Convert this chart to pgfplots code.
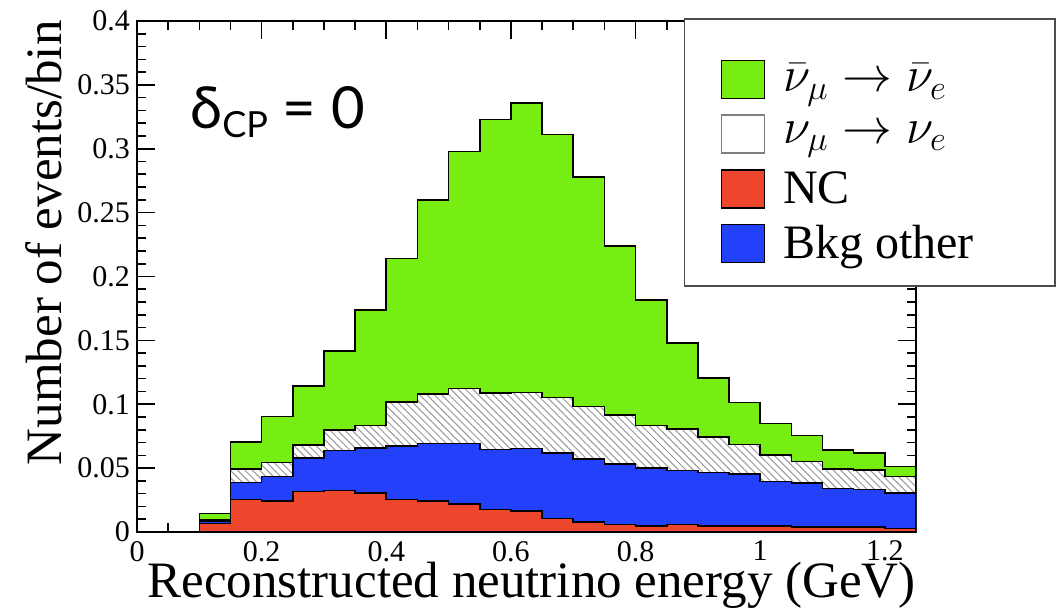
\documentclass[border=0pt]{standalone}
\usepackage{pgfplots}
\pgfplotsset{compat=1.18}
\usepackage{pgfplotstable}
\usetikzlibrary{patterns.meta}
\usepackage{fontspec}
\setmainfont{Liberation Serif}
\newfontfamily\labelsans{Lato}
\definecolor{cgreen}{RGB}{118,238,20}
\definecolor{cred}{RGB}{238,70,45}
\definecolor{cblue}{RGB}{35,65,250}

\pgfplotstableread{
x     red     blue    nue     total
0.00  0       0       0       0
0.05  0       0       0       0
0.10  0.0065  0.0085  0.0095  0.0145
0.15  0.0255  0.0387  0.0492  0.0703
0.20  0.0245  0.0434  0.0545  0.0903
0.25  0.0316  0.0579  0.0679  0.1145
0.30  0.0324  0.0639  0.0797  0.1416
0.35  0.0303  0.0658  0.0834  0.1737
0.40  0.0255  0.0671  0.1018  0.2140
0.45  0.0242  0.0692  0.1079  0.2600
0.50  0.0218  0.0692  0.1124  0.2980
0.55  0.0176  0.0645  0.1087  0.3230
0.60  0.0163  0.0653  0.1092  0.3360
0.65  0.0105  0.0618  0.1053  0.3110
0.70  0.0079  0.0571  0.0982  0.2780
0.75  0.0060  0.0534  0.0916  0.2240
0.80  0.0045  0.0500  0.0834  0.1816
0.85  0.0058  0.0482  0.0808  0.1480
0.90  0.0045  0.0466  0.0745  0.1205
0.95  0.0047  0.0455  0.0684  0.1013
1.00  0.0045  0.0395  0.0605  0.0850
1.05  0.0040  0.0382  0.0553  0.0755
1.10  0.0040  0.0342  0.0495  0.0640
1.15  0.0040  0.0334  0.0487  0.0618
1.20  0.0026  0.0303  0.0434  0.0513
1.25  0.0026  0.0303  0.0434  0.0513
}\data

\begin{document}
\begin{tikzpicture}[x=1pt,y=1pt]
\useasboundingbox (-68.5,-41.5) rectangle (461,266);
\begin{axis}[
  at={(0,0)}, anchor=south west,
  scale only axis, width=389.5pt, height=255.5pt,
  xmin=0, xmax=1.25, ymin=0, ymax=0.4,
  xtick={0,0.2,0.4,0.6,0.8,1,1.2},
  xticklabels={0,0.2,0.4,0.6,0.8,1,1.2},
  minor x tick num=3,
  ytick={0,0.05,0.1,0.15,0.2,0.25,0.3,0.35,0.4},
  yticklabels={0,0.05,0.1,0.15,0.2,0.25,0.3,0.35,0.4},
  minor y tick num=4,
  tick align=inside, tick pos=both,
  xticklabel pos=lower, yticklabel pos=left,
  major tick length=9pt, minor tick length=4.5pt,
  axis line style={line width=1pt},
  every tick/.style={black, line width=0.8pt},
  /pgf/number format/assume math mode=true,
  tick label style={font=\fontsize{15}{15}\selectfont},
  xticklabel style={yshift=-1pt},
  xlabel={Reconstructed neutrino energy (GeV)},
  ylabel={Number of events/bin},
  xlabel style={font=\fontsize{25.5}{25.5}\selectfont, inner sep=0pt, at={(axis description cs:1,-0.129)}, anchor=base east},
  ylabel style={font=\fontsize{25.5}{25.5}\selectfont, inner sep=0pt, at={(axis description cs:-0.0963,1.002)}, anchor=base east},
  legend image code/.code={\draw[#1, line width=0.8pt] (0pt,-9.5pt) rectangle (21.5pt,9.5pt);},
  legend style={at={(axis description cs:0.702,1.006)}, anchor=north west,
    draw=black!70, line width=0.8pt, fill=white,
    font=\fontsize{24}{24}\selectfont,
    inner xsep=18pt, inner ysep=11.5pt, row sep=7.5pt,
    nodes={inner sep=0pt}, column sep=9pt},
  legend cell align=left,
]
\addplot[forget plot, const plot, fill=cgreen, draw=black, line width=0.8pt] table[x=x,y=total]{\data} \closedcycle;
\addplot[forget plot, const plot, fill=white, draw=black, line width=0.8pt,
  postaction={pattern={Lines[angle=-45,distance=2.6pt,line width=0.5pt]}, pattern color=gray!80}] table[x=x,y=nue]{\data} \closedcycle;
\addplot[forget plot, const plot, fill=cblue, draw=black, line width=0.8pt] table[x=x,y=blue]{\data} \closedcycle;
\addplot[forget plot, const plot, fill=cred, draw=black, line width=0.8pt] table[x=x,y=red]{\data} \closedcycle;

\addlegendimage{empty legend}
\addlegendentry{}
\addlegendimage{fill=cgreen, draw=black}
\addlegendentry{\makebox[118pt][l]{$\bar{\nu}_\mu \rightarrow \bar{\nu}_e$}}
\addlegendimage{fill=white, draw=gray}
\addlegendentry{\makebox[118pt][l]{$\nu_\mu \rightarrow \nu_e$}}
\addlegendimage{fill=cred, draw=black}
\addlegendentry{\makebox[118pt][l]{NC}}
\addlegendimage{fill=cblue, draw=black}
\addlegendentry{\makebox[118pt][l]{Bkg other}}

\node[anchor=base west, inner sep=0pt, font=\labelsans\fontsize{29}{29}\selectfont]
  at (axis description cs:0.068,0.79) {δ\raisebox{-0.15em}{\fontsize{18}{18}\selectfont CP} = 0};
\end{axis}
\end{tikzpicture}
\end{document}
